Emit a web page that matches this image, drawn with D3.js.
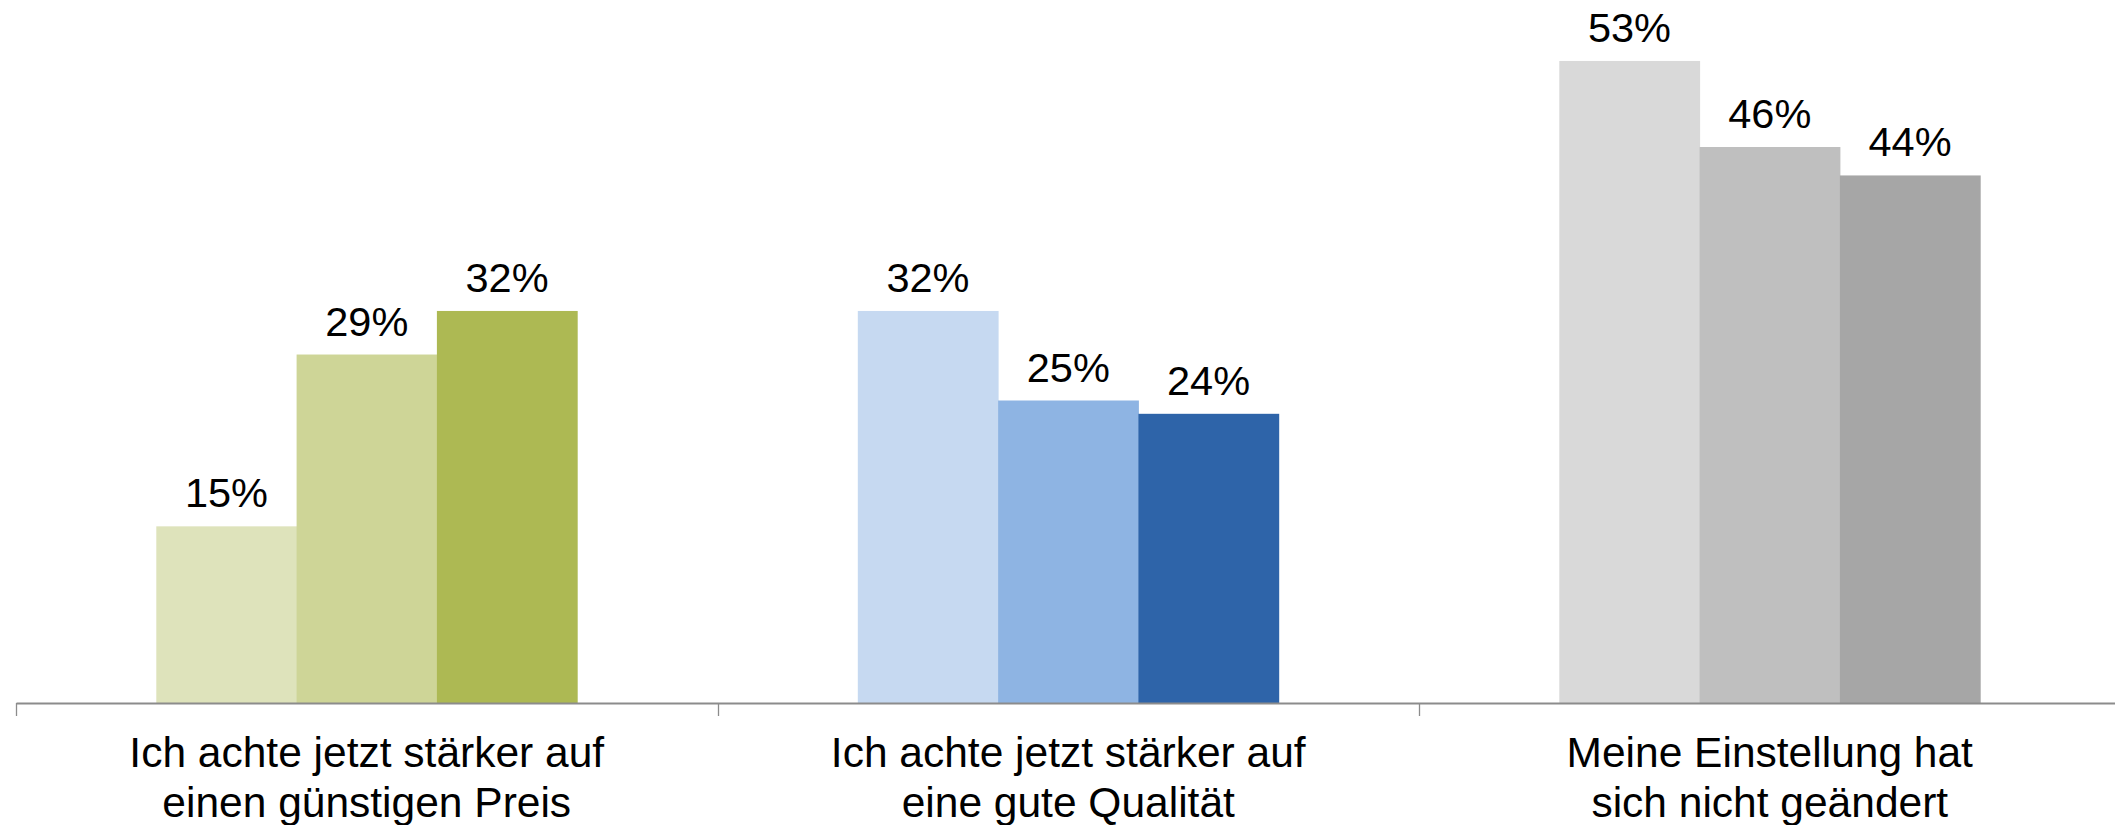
<!DOCTYPE html>
<html>
<head>
<meta charset="utf-8">
<script src="https://cdn.jsdelivr.net/npm/d3@7"></script>
<style>
  html, body { margin: 0; padding: 0; background: #fff; }
  svg { display: block; }
  text { font-family: "Liberation Sans", Arial, sans-serif; fill: #000; }
</style>
</head>
<body>
<svg id="chart" width="2115" height="825"></svg>
<script>
// Categories (two-line labels)
const categories = [
  ["Ich achte jetzt stärker auf", "einen günstigen Preis"],
  ["Ich achte jetzt stärker auf", "eine gute Qualität"],
  ["Meine Einstellung hat", "sich nicht geändert"]
];
const series = ["Welle 1", "Welle 2", "Welle 3"];
// Values in percent (per category, per series)
const valuesPreis     = [14.6, 28.8, 32.4];
const valuesQualitaet = [32.4, 25.0, 23.9];
const valuesNicht     = [53.06, 45.95, 43.6];
const values = [valuesPreis, valuesQualitaet, valuesNicht];
const colors = [
  ["#DEE3BB", "#CED597", "#ADB953"],
  ["#C6D9F1", "#8EB4E3", "#2E64A9"],
  ["#D9D9D9", "#BFBFBF", "#A6A6A6"]
];

const svg = d3.select("#chart");
const axisY = 703;
const x0Left = 16, step = 701.5;

const x0 = d3.scaleBand()
  .domain(d3.range(categories.length))
  .range([x0Left, x0Left + step * categories.length])
  .paddingInner(0).paddingOuter(0);

const x1 = d3.scaleBand()
  .domain(series)
  .range([0, x0.bandwidth()])
  .paddingInner(0).paddingOuter(1);

const y = d3.scaleLinear().domain([0, 703 / 12.1]).range([axisY, 0]);

const groups = svg.selectAll("g.grp")
  .data(categories.map((c, i) => ({ c, i })))
  .join("g")
  .attr("class", "grp")
  .attr("transform", d => `translate(${x0(d.i)},0)`);

groups.selectAll("rect")
  .data(d => series.map((s, j) => ({ s, j, v: values[d.i][j], col: colors[d.i][j] })))
  .join("rect")
  .attr("x", d => x1(d.s))
  .attr("width", x1.bandwidth() + 0.5)
  .attr("y", d => y(d.v))
  .attr("height", d => axisY - y(d.v))
  .attr("fill", d => d.col);

groups.selectAll("text.val")
  .data(d => series.map((s, j) => ({ s, j, v: values[d.i][j] })))
  .join("text")
  .attr("class", "val")
  .attr("x", d => x1(d.s) + x1.bandwidth() / 2)
  .attr("y", d => y(d.v) - 19)
  .attr("text-anchor", "middle")
  .style("font-size", "41.5px")
  .text(d => Math.round(d.v) + "%");

// Category axis
const axis = d3.axisBottom(x0)
  .tickValues([])
  .tickSize(0)
  .tickSizeOuter(0);
const axG = svg.append("g").attr("transform", `translate(0,${axisY})`).call(axis);
axG.select(".domain").attr("stroke", "#8C8C8C").attr("stroke-width", 2);

// Tick marks between categories
const tickXs = d3.range(categories.length + 1).map(i => x0Left + i * step);
axG.selectAll("line.tk")
  .data(tickXs)
  .join("line")
  .attr("class", "tk")
  .attr("x1", d => Math.round(d) + 0.5).attr("x2", d => Math.round(d) + 0.5)
  .attr("y1", 0).attr("y2", 13)
  .attr("stroke", "#8C8C8C").attr("stroke-width", 1.3);

// Category labels
const lbl = svg.selectAll("text.cat")
  .data(categories.map((c, i) => ({ c, i })))
  .join("text")
  .attr("class", "cat")
  .attr("text-anchor", "middle")
  .style("font-size", "42.5px")
  .attr("x", d => x0(d.i) + x0.bandwidth() / 2);
lbl.selectAll("tspan")
  .data(d => d.c.map((t, k) => ({ t, k, x: x0(d.i) + x0.bandwidth() / 2 })))
  .join("tspan")
  .attr("x", d => d.x)
  .attr("y", d => 767 + d.k * 50)
  .text(d => d.t);
</script>
</body>
</html>
